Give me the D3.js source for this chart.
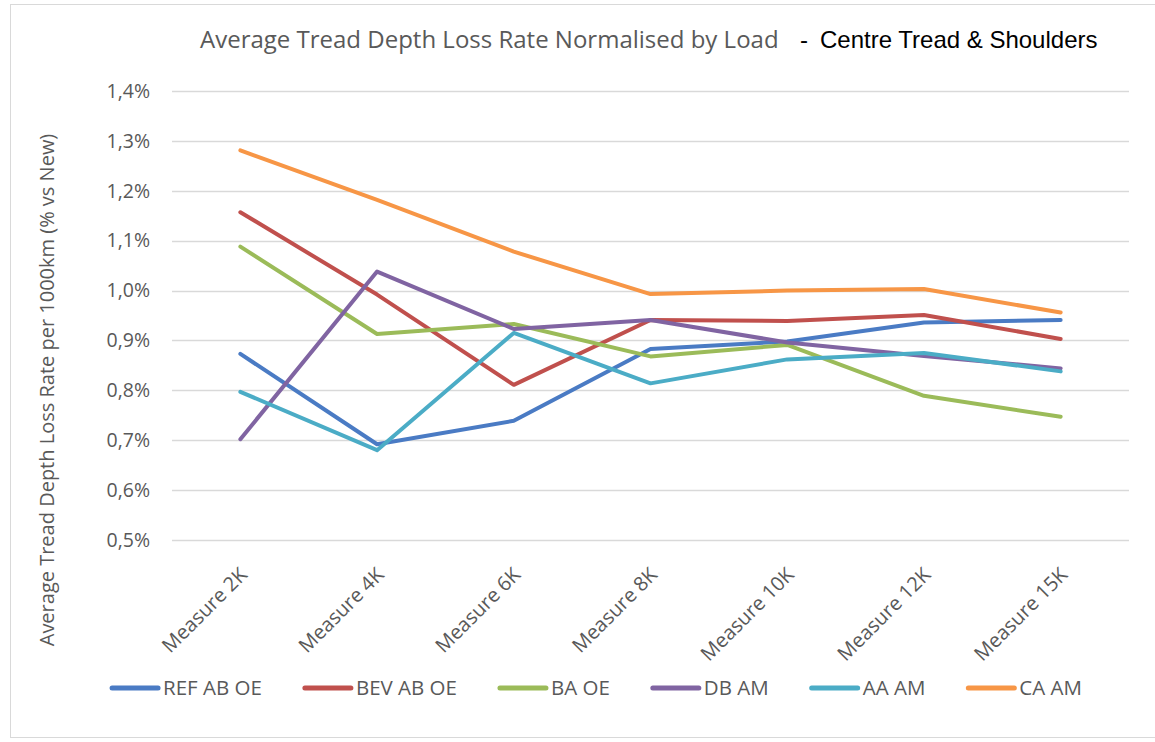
<!DOCTYPE html>
<html>
<head>
<meta charset="utf-8">
<script src="https://cdn.jsdelivr.net/npm/d3@7"></script>
<style>
  body { margin: 0; background: #fff; }
  svg { display: block; }
</style>
</head>
<body>
<svg id="chart" width="1155" height="742"></svg>
<script>
// data (values in %)
const categories = ['Measure 2K', 'Measure 4K', 'Measure 6K', 'Measure 8K', 'Measure 10K', 'Measure 12K', 'Measure 15K'];
const seriesNames = ['REF AB OE', 'BEV AB OE', 'BA OE', 'DB AM', 'AA AM', 'CA AM'];
const seriesColors = ['#4a7bc4', '#c0504d', '#9bbb59', '#8064a2', '#4bacc6', '#f79646'];
const refAbOe = [0.873, 0.692, 0.739, 0.883, 0.898, 0.936, 0.941];
const bevAbOe = [1.157, 0.992, 0.811, 0.941, 0.939, 0.951, 0.903];
const baOe    = [1.088, 0.913, 0.933, 0.868, 0.891, 0.789, 0.747];
const dbAm    = [0.702, 1.038, 0.923, 0.941, 0.896, 0.869, 0.844];
const aaAm    = [0.797, 0.680, 0.915, 0.814, 0.862, 0.875, 0.838];
const caAm    = [1.281, 1.182, 1.078, 0.993, 1.000, 1.003, 0.956];
const yTicks = [0.5, 0.6, 0.7, 0.8, 0.9, 1.0, 1.1, 1.2, 1.3, 1.4];

const seriesValues = [refAbOe, bevAbOe, baOe, dbAm, aaAm, caAm];
const series = seriesNames.map((name, i) => ({ name, color: seriesColors[i], values: seriesValues[i] }));

const svg = d3.select('#chart');
const gray = '#595959';
const labelFont = "'Open Sans', sans-serif";

// chart border
svg.append('rect')
    .attr('x', 10.5).attr('y', 4.5)
    .attr('width', 1170).attr('height', 733)
    .attr('fill', 'none')
    .attr('stroke', '#d9d9d9');

const plot = { left: 172, right: 1129, top: 91, bottom: 540 };

const x = d3.scaleBand().domain(categories).range([plot.left, plot.right]).padding(0);
const y = d3.scaleLinear().domain([0.5, 1.4]).range([plot.bottom, plot.top]);

const fmt = d3.formatLocale({ decimal: ',', thousands: '.', grouping: [3], currency: ['', ''] }).format('.1f');

// gridlines
svg.append('g')
    .selectAll('line')
    .data(yTicks)
    .enter()
    .append('line')
    .attr('x1', plot.left).attr('x2', plot.right)
    .attr('y1', d => Math.round(y(d)) + 0.5).attr('y2', d => Math.round(y(d)) + 0.5)
    .attr('stroke', '#d9d9d9')
    .attr('stroke-width', 1.5);

// y axis labels
const yAxis = svg.append('g')
    .attr('transform', `translate(${plot.left - 10},0)`)
    .call(d3.axisLeft(y).tickValues(yTicks).tickFormat(d => fmt(d) + '%').tickSize(0).tickPadding(12));
yAxis.select('.domain').remove();
yAxis.selectAll('text')
    .attr('font-family', labelFont)
    .attr('font-size', 19.5)
    .attr('fill', gray);

// x axis labels (rotated)
const xAxis = svg.append('g')
    .attr('transform', `translate(0,${plot.bottom})`)
    .call(d3.axisBottom(x).tickSize(0).tickPadding(0));
xAxis.select('.domain').remove();
xAxis.selectAll('text')
    .attr('font-family', labelFont)
    .attr('font-size', 20)
    .attr('fill', gray)
    .attr('text-anchor', 'end')
    .attr('dy', 0)
    .attr('transform', 'translate(8,36) rotate(-45)');

// lines
const line = d3.line()
    .x((d, i) => x(categories[i]) + x.bandwidth() / 2)
    .y(d => y(d));

svg.append('g')
    .selectAll('path')
    .data(series)
    .enter()
    .append('path')
    .attr('d', d => line(d.values))
    .attr('fill', 'none')
    .attr('stroke', d => d.color)
    .attr('stroke-width', 4)
    .attr('stroke-linejoin', 'round')
    .attr('stroke-linecap', 'round');

// title
const title = svg.append('text')
    .attr('x', 200).attr('y', 48)
    .attr('font-family', labelFont)
    .attr('font-size', 24)
    .attr('fill', gray)
    .text('Average Tread Depth Loss Rate Normalised by Load');
title.append('tspan')
    .attr('font-family', "'Liberation Sans', Arial, sans-serif")
    .attr('font-size', 24)
    .attr('fill', '#000')
    .attr('x', 800)
    .text('-');
title.append('tspan')
    .attr('font-family', "'Liberation Sans', Arial, sans-serif")
    .attr('font-size', 24)
    .attr('fill', '#000')
    .attr('x', 820)
    .text('Centre Tread & Shoulders');

// y axis title
svg.append('text')
    .attr('transform', 'translate(54,390) rotate(-90)')
    .attr('text-anchor', 'middle')
    .attr('font-family', labelFont)
    .attr('font-size', 20)
    .attr('fill', gray)
    .text('Average Tread Depth Loss Rate per 1000km (% vs New)');

// legend
const legend = svg.append('g');
const items = legend.selectAll('g')
    .data(series)
    .enter()
    .append('g');
items.append('line')
    .attr('x1', 0).attr('x2', 46)
    .attr('y1', 0).attr('y2', 0)
    .attr('stroke', d => d.color)
    .attr('stroke-width', 5)
    .attr('stroke-linecap', 'round');
items.append('text')
    .attr('x', 51).attr('y', 7)
    .attr('font-family', labelFont)
    .attr('font-size', 20.5)
    .attr('fill', gray)
    .text(d => d.name);

let pos = 0;
const offsets = [];
items.each(function() {
    offsets.push(pos);
    pos += 51 + this.querySelector('text').getComputedTextLength() + 43;
});
const total = pos - 43;
const startX = 597 - total / 2;
items.attr('transform', (d, i) => `translate(${startX + offsets[i]},688)`);
</script>
</body>
</html>
